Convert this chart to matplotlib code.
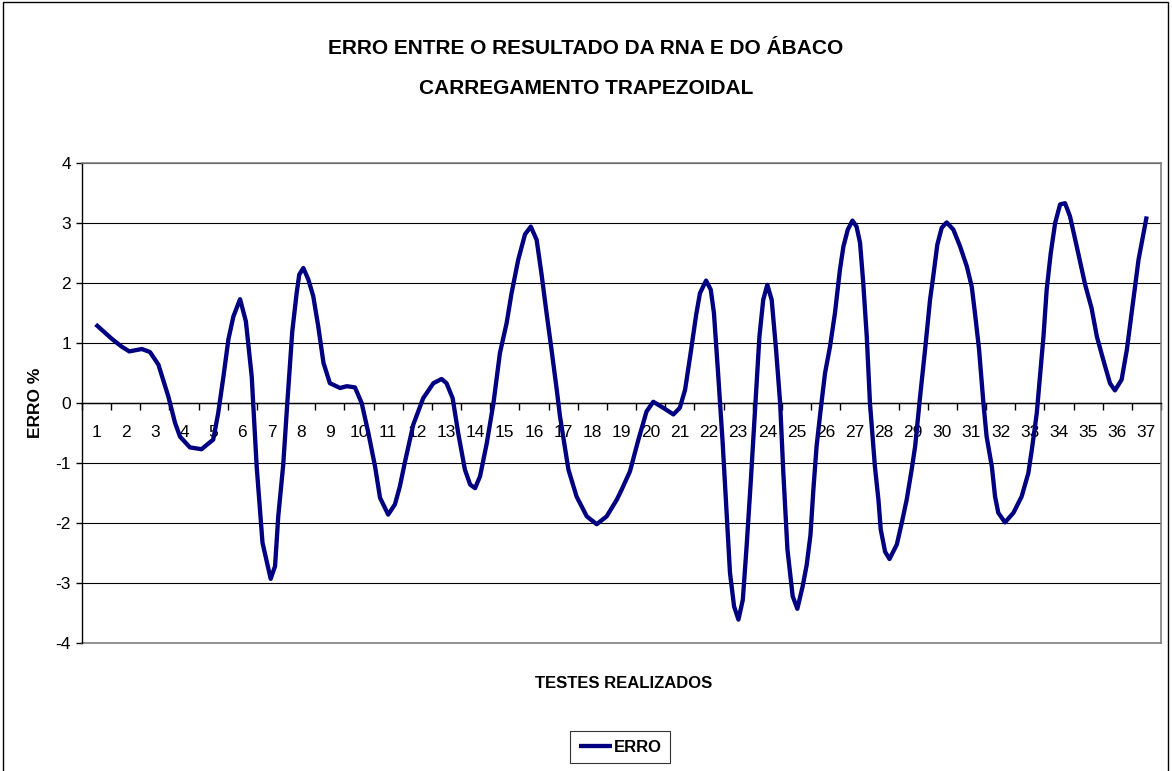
import matplotlib
matplotlib.use("Agg")
import matplotlib.pyplot as plt
from matplotlib.patches import Rectangle
from matplotlib.ticker import FixedLocator
from matplotlib import font_manager

plt.rcParams['font.family'] = ['Liberation Sans', 'DejaVu Sans']
names = {f.name for f in font_manager.fontManager.ttflist}
NARROW = ['Liberation Sans Narrow', 'Liberation Sans', 'DejaVu Sans'] if 'Liberation Sans Narrow' in names \
    else ['Liberation Sans', 'DejaVu Sans']
HAS_NARROW = 'Liberation Sans Narrow' in names

# Category labels (tests)
testes = list(range(1, 38))
# Curve readings: position along the test axis and error value (%)
posicao = [0.97, 1.52, 1.86, 2.12, 2.55, 2.83, 3.12, 3.46, 3.69, 3.86, 4.20, 4.60, 5.00, 5.17, 5.35, 5.52,
           5.69, 5.92, 6.12, 6.32, 6.49, 6.69, 6.97, 7.12, 7.23, 7.40, 7.54, 7.71, 7.86, 7.95, 8.09, 8.26,
           8.43, 8.60, 8.78, 9.00, 9.35, 9.58, 9.86, 10.09, 10.32, 10.55, 10.72, 11.00, 11.23, 11.40, 11.58,
           11.86, 12.20, 12.55, 12.83, 13.00, 13.21, 13.40, 13.63, 13.81, 13.98, 14.15, 14.38, 14.61, 14.83,
           15.06, 15.23, 15.46, 15.69, 15.89, 16.09, 16.26, 16.43, 16.60, 16.78, 16.89, 17.18, 17.46, 17.81,
           18.15, 18.49, 18.84, 19.00, 19.29, 19.58, 19.86, 20.09, 20.43, 20.78, 21.00, 21.18, 21.37, 21.56,
           21.69, 21.90, 22.06, 22.17, 22.32, 22.47, 22.58, 22.72, 22.86, 23.01, 23.16, 23.29, 23.43, 23.58,
           23.73, 23.86, 24.00, 24.15, 24.30, 24.44, 24.55, 24.69, 24.87, 25.03, 25.21, 25.35, 25.48, 25.58,
           25.69, 25.83, 25.98, 26.15, 26.32, 26.49, 26.61, 26.76, 26.92, 27.06, 27.18, 27.29, 27.41, 27.52,
           27.69, 27.81, 27.89, 28.04, 28.19, 28.44, 28.61, 28.78, 28.95, 29.07, 29.24, 29.41, 29.58, 29.69,
           29.83, 29.98, 30.15, 30.38, 30.61, 30.84, 31.01, 31.12, 31.26, 31.41, 31.52, 31.70, 31.81, 31.92,
           32.15, 32.44, 32.72, 32.95, 33.07, 33.24, 33.35, 33.47, 33.58, 33.72, 33.87, 34.04, 34.21, 34.38,
           34.61, 34.90, 35.12, 35.30, 35.52, 35.75, 35.92, 36.15, 36.33, 36.55, 36.73, 37.01]
erro = [1.31, 1.07, 0.94, 0.86, 0.90, 0.85, 0.64, 0.11, -0.33, -0.56, -0.74, -0.77, -0.61, -0.17, 0.44, 1.06,
        1.44, 1.73, 1.36, 0.44, -1.06, -2.33, -2.93, -2.72, -1.89, -1.03, 0.00, 1.19, 1.83, 2.14, 2.25, 2.06,
        1.78, 1.28, 0.67, 0.33, 0.25, 0.28, 0.26, 0.00, -0.50, -1.06, -1.58, -1.86, -1.69, -1.39, -0.97,
        -0.36, 0.08, 0.33, 0.40, 0.33, 0.08, -0.50, -1.11, -1.36, -1.42, -1.22, -0.67, 0.00, 0.83,
        1.33, 1.83, 2.39, 2.81, 2.94, 2.72, 2.14, 1.50, 0.89, 0.22, -0.22, -1.11, -1.56, -1.89,
        -2.02, -1.89, -1.61, -1.45, -1.14, -0.61, -0.14, 0.02, -0.08, -0.19, -0.08, 0.22, 0.83, 1.47,
        1.83, 2.04, 1.89, 1.50, 0.44, -0.67, -1.61, -2.83, -3.39, -3.61, -3.28, -2.39, -1.33, -0.11,
        1.11, 1.72, 1.97, 1.72, 0.89, 0.00, -1.17, -2.44, -3.22, -3.43, -3.06, -2.70, -2.20, -1.44,
        -0.72, -0.11, 0.50, 0.94, 1.50, 2.22, 2.61, 2.89, 3.04, 2.94, 2.67, 2.00, 1.11, 0.00,
        -1.06, -1.61, -2.11, -2.48, -2.60, -2.36, -2.00, -1.61, -1.11, -0.72, 0.11, 0.89, 1.72, 2.11,
        2.64, 2.92, 3.01, 2.89, 2.61, 2.28, 1.94, 1.50, 0.90, 0.00, -0.56, -1.06, -1.56, -1.83,
        -1.99, -1.83, -1.56, -1.17, -0.78, -0.17, 0.44, 1.11, 1.89, 2.50, 3.00, 3.31, 3.33, 3.11,
        2.61, 1.97, 1.58, 1.11, 0.72, 0.33, 0.21, 0.39, 0.89, 1.72, 2.39, 3.11]
y_ticks = [4, 3, 2, 1, 0, -1, -2, -3, -4]

W, H = 1172, 771
fig = plt.figure(figsize=(W / 100, H / 100), dpi=100)
fig.patch.set_facecolor('white')

# outer chart border
fig.patches.append(Rectangle((3 / W, -0.01), (1168 - 3) / W, 1.01 - 2 / H, transform=fig.transFigure,
                             fill=False, edgecolor='black', linewidth=1.0, zorder=0))

L, R, T, B = 82, 1161, 163, 643
ax = fig.add_axes([L / W, 1 - B / H, (R - L) / W, (B - T) / H])
ax.set_xlim(0.5, 37.5)
ax.set_ylim(-4, 4)

for yv in y_ticks:
    ax.axhline(yv, color='black', linewidth=0.8, zorder=1)

ax.plot(posicao, erro, color='#000080', linewidth=3.1, solid_capstyle='butt', zorder=3, label='ERRO')

for s in ['top', 'right']:
    ax.spines[s].set_color('#808080')
    ax.spines[s].set_linewidth(1.2)
ax.spines['left'].set_color('black')
ax.spines['left'].set_linewidth(1.0)
ax.spines['bottom'].set_position(('data', 0))
ax.spines['bottom'].set_color('black')
ax.spines['bottom'].set_linewidth(1.0)
# bottom border of plot area
ax.plot([0, 1], [0, 0], transform=ax.transAxes, color='#808080', linewidth=1.2, clip_on=False, zorder=2)

tick_fs = 13.5 if HAS_NARROW else 12.5
ax.set_yticks(y_ticks)
ax.set_yticklabels([str(v) for v in y_ticks], fontsize=tick_fs, family=NARROW)
ax.tick_params(axis='y', direction='out', length=4, width=1, pad=4)

ax.set_xticks(testes)
ax.set_xticklabels([str(t) for t in testes], fontsize=tick_fs, family=NARROW)
ax.xaxis.set_minor_locator(FixedLocator([t + 0.5 for t in range(0, 38)]))
ax.tick_params(axis='x', which='major', length=0, pad=16)
ax.tick_params(axis='x', which='minor', direction='out', length=5, width=1)

title_fs = 17.5 if HAS_NARROW else 15
fig.text(0.5, 1 - 48 / H, 'ERRO ENTRE O RESULTADO DA RNA E DO ÁBACO', ha='center', va='center',
         fontsize=title_fs, fontweight='bold', family=NARROW)
fig.text(0.5, 1 - 88 / H, 'CARREGAMENTO TRAPEZOIDAL', ha='center', va='center',
         fontsize=title_fs, fontweight='bold', family=NARROW)
fig.text(35 / W, 1 - 403 / H, 'ERRO %', rotation=90, ha='center', va='center',
         fontsize=12.5, fontweight='bold')
lab_fs = 13.5 if HAS_NARROW else 12
fig.text(624 / W, 1 - 684 / H, 'TESTES REALIZADOS', ha='center', va='center',
         fontsize=lab_fs, fontweight='bold', family=NARROW)

leg = fig.legend(loc='center', bbox_to_anchor=(620 / W, 1 - 747 / H), frameon=True, fancybox=False,
                 edgecolor='black', handlelength=2.0, handletextpad=0.1,
                 borderpad=0.5, borderaxespad=0,
                 prop={'family': NARROW, 'size': lab_fs, 'weight': 'bold'})
leg.get_frame().set_linewidth(0.8)

fig.savefig('out.png', dpi=100, facecolor='white')
